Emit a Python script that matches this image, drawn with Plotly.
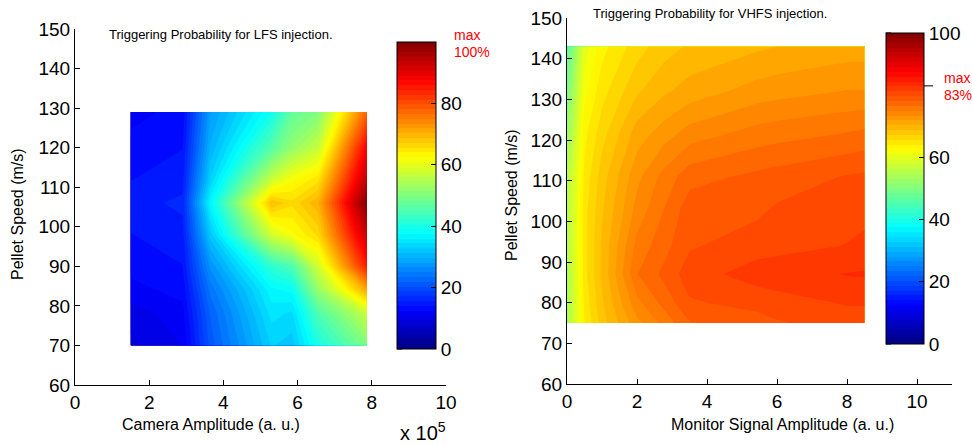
import plotly.graph_objects as go

W, H = 972, 446

# ---- LFS injection: camera amplitude (x 1e5) vs pellet speed ----
lfs_amp = [1.5, 2.9, 3.65, 5.3, 5.85, 6.55, 7.87]
lfs_speed = [70, 78, 84, 90, 98, 106, 112, 120, 129]
lfs_prob = [
    [9, 11, 21, 33, 32, 40, 50],
    [10, 12, 22, 35, 34, 45, 57],
    [12, 13, 24, 37, 38, 52, 71],
    [13, 14, 27, 42, 45, 58, 85],
    [14, 15, 32, 58, 62, 66, 93],
    [15, 16, 37, 69, 66, 70, 100],
    [14, 15, 33, 57, 62, 65, 94],
    [13, 14, 30, 46, 52, 57, 88],
    [12, 13, 28, 39, 47, 50, 78],
]

# ---- VHFS injection: monitor signal amplitude vs pellet speed ----
vhfs_amp = [0.0, 0.5, 1.0, 2.0, 2.75, 3.5, 5.4, 6.0, 8.0, 8.5]
vhfs_speed = [75, 80, 87, 94, 103, 111, 122, 132, 143]
vhfs_prob = [
    [54, 64, 68, 73, 75.5, 78, 79, 79.5, 80.5, 80.5],
    [54, 64.5, 68.5, 74.5, 77, 79.5, 80.2, 80.6, 81.4, 81.4],
    [54, 65, 69, 76.5, 78.5, 80.5, 82, 82.2, 82.9, 83],
    [55, 65, 69, 75.5, 77.5, 79.5, 80.5, 80.7, 81.3, 81.6],
    [55, 65, 68.5, 74, 76.5, 79, 79.3, 79.9, 80.7, 80.8],
    [55, 64.5, 68, 73, 75.5, 77.5, 78.5, 78.8, 79.8, 80],
    [52, 63.5, 66.5, 71, 72.5, 74, 75.5, 75.8, 76.5, 76.8],
    [49, 62, 65, 68.5, 70, 71, 72.5, 72.8, 73.5, 73.5],
    [46, 60, 63.5, 66.5, 68, 69, 70, 70.3, 71, 71],
]

lfs_max = 100
vhfs_max = 83
lfs_cb_ticks = [0, 20, 40, 60, 80]
vhfs_cb_ticks = [0, 20, 40, 60, 100]
speed_ticks = list(range(60, 151, 10))
amp_ticks = [0, 2, 4, 6, 8, 10]

# 64-step colour map, so one contour band per colour entry
N_LEVELS = 64

jet = [
    [0.0, "rgb(0,0,128)"],
    [0.125, "rgb(0,0,255)"],
    [0.375, "rgb(0,255,255)"],
    [0.625, "rgb(255,255,0)"],
    [0.875, "rgb(255,0,0)"],
    [1.0, "rgb(128,0,0)"],
]

FONT = "Liberation Sans, Arial, Helvetica, sans-serif"
TICK = 19


def fx(p):
    return p / W


def fy(p):
    return 1 - p / H


# colorbar pixel boxes: (left, top, right, bottom)
cb1 = (397, 42, 436, 349)
cb2 = (886, 33, 924, 344)


def colorbar(box, ticks):
    l, t, r, b = box
    return dict(
        x=fx(l), xanchor="left", xpad=0,
        y=fy((t + b) / 2), yanchor="middle", ypad=0,
        len=(b - t) / H, lenmode="fraction",
        thickness=r - l, thicknessmode="pixels",
        outlinecolor="black", outlinewidth=1,
        tickvals=ticks, ticks="inside", ticklen=5, tickcolor="black",
        tickfont=dict(family=FONT, size=TICK, color="black"),
    )


contours = dict(start=0, end=100, size=100 / N_LEVELS,
                coloring="fill", showlines=False)

fig = go.Figure()
fig.add_trace(go.Contour(
    x=lfs_amp, y=lfs_speed, z=lfs_prob, colorscale=jet,
    zmin=0, zmax=100, contours=contours, line=dict(width=0, smoothing=0),
    colorbar=colorbar(cb1, lfs_cb_ticks), xaxis="x", yaxis="y",
    hoverinfo="skip",
))
fig.add_trace(go.Contour(
    x=vhfs_amp, y=vhfs_speed, z=vhfs_prob, colorscale=jet,
    zmin=0, zmax=100, contours=contours, line=dict(width=0, smoothing=0),
    colorbar=colorbar(cb2, vhfs_cb_ticks), xaxis="x2", yaxis="y2",
    hoverinfo="skip",
))

axis_common = dict(
    showline=True, linecolor="black", linewidth=1, mirror=False,
    showgrid=False, zeroline=False, ticks="inside", ticklen=5,
    tickcolor="black", tickfont=dict(family=FONT, size=TICK, color="black"),
)

fig.update_layout(
    width=W, height=H,
    margin=dict(l=0, r=0, t=0, b=0, autoexpand=False),
    paper_bgcolor="white", plot_bgcolor="white", showlegend=False,
    xaxis=dict(domain=[fx(75), fx(446)], range=[0, 10], tickvals=amp_ticks,
               anchor="y", **axis_common),
    yaxis=dict(domain=[fy(385), fy(29)], range=[60, 150], tickvals=speed_ticks,
               anchor="x", **axis_common),
    xaxis2=dict(domain=[fx(567), fx(952)], range=[0, 11], tickvals=amp_ticks,
                anchor="y2", **axis_common),
    yaxis2=dict(domain=[fy(384), fy(18)], range=[60, 150], tickvals=speed_ticks,
                anchor="x2", **axis_common),
)


def note(text, x, y, size, color="black", xanchor="left", angle=0):
    fig.add_annotation(
        text=text, x=fx(x), y=fy(y), xref="paper", yref="paper",
        xanchor=xanchor, yanchor="middle", showarrow=False, textangle=angle,
        font=dict(family=FONT, size=size, color=color),
    )


# panel titles
note("Triggering Probability for LFS injection.", 107, 34, 13)
note("Triggering Probability for VHFS injection.", 591, 14, 13)

# axis titles
note("Camera Amplitude (a. u.)", 211, 424, 16, xanchor="center")
note("Pellet Speed (m/s)", 17, 214, 16, xanchor="center", angle=-90)
note("Monitor Signal Amplitude (a. u.)", 782, 424, 16, xanchor="center")
note("Pellet Speed (m/s)", 511, 195, 16, xanchor="center", angle=-90)
note("x 10<sup>5</sup>", 398, 431, 20)

# max markers
note("max", 452, 35, 14, color="red")
note(f"{lfs_max}%", 452, 52, 14, color="red")
note("max", 942, 78, 14, color="red")
note(f"{vhfs_max}%", 942, 95, 14, color="red")

# horizontal marker across the VHFS colorbar at the maximum value
l, t, r, b = cb2
y_max = b - vhfs_max / 100 * (b - t)
fig.add_shape(type="line", xref="paper", yref="paper",
              x0=fx(l + 1), x1=fx(933), y0=fy(y_max), y1=fy(y_max),
              line=dict(color="black", width=1))

# inward tick marks on the left edge of each colorbar
for box, ticks in ((cb1, lfs_cb_ticks), (cb2, vhfs_cb_ticks)):
    l, t, r, b = box
    for v in ticks:
        yp = b - v / 100 * (b - t)
        fig.add_shape(type="line", xref="paper", yref="paper",
                      x0=fx(l), x1=fx(l + 5), y0=fy(yp), y1=fy(yp),
                      line=dict(color="black", width=1))

fig.write_html("out.html")
